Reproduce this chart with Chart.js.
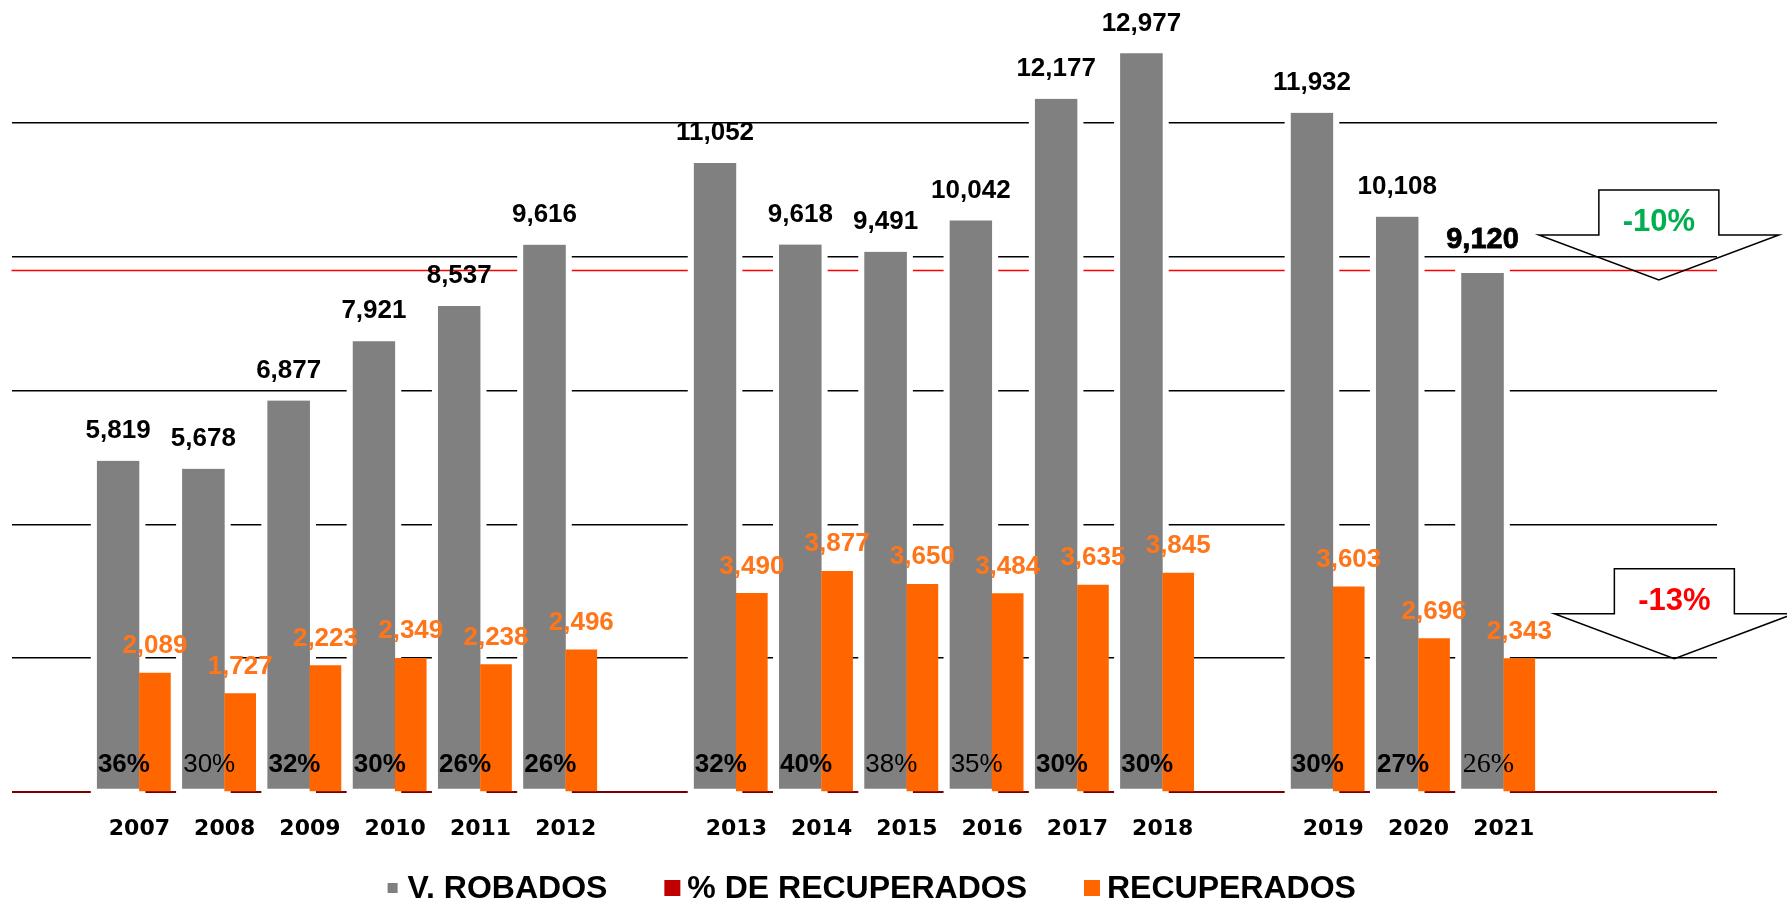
<!DOCTYPE html>
<html><head><meta charset="utf-8">
<script src="https://cdn.jsdelivr.net/npm/chart.js@4.4.1/dist/chart.umd.min.js"></script>
<style>html,body{margin:0;padding:0;background:#fff}#wrap{width:1787px;height:903px;position:relative}</style>
</head><body><div id="wrap"><canvas id="c"></canvas></div>
<script>
// ---- data (blank categories are the gaps between groups of years) ----
const categories = ['', '2007','2008','2009','2010','2011','2012','', '2013','2014','2015','2016','2017','2018','', '2019','2020','2021','',''];
const robados = [null,5819,5678,6877,7921,8537,9616,null,11052,9618,9491,10042,12177,12977,null,11932,10108,9120,null,null];
const recuperados = [null,2089,1727,2223,2349,2238,2496,null,3490,3877,3650,3484,3635,3845,null,3603,2696,2343,null,null];
const pctRecuperados = [null,36,30,32,30,26,26,null,32,40,38,35,30,30,null,30,27,26,null,null];
const pctLabelStyle = [null,'b','n','b','b','b','b',null,'b','b','n','n','b','b',null,'b','b','s',null,null];
const gridValues = [0,2350,4700,7050,9400,11750];
const yMax = 13914;
const referenceValue = 9160;
const seriesNames = ['V. ROBADOS','% DE RECUPERADOS','RECUPERADOS'];
const changeRobados = '-10%';
const changeRecuperados = '-13%';

const SANS = '"Liberation Sans", Arial, sans-serif';
const fmt = v => v.toLocaleString('en-US');
const lastIdx = arr => { for (let i = arr.length - 1; i >= 0; i--) if (arr[i] != null) return i; return -1; };

function drawArrow(ctx, tipX, tipY, text, color) {
  const rH = 60, tH = 120, h1 = 45, h2 = 45;
  ctx.save();
  ctx.strokeStyle = '#000'; ctx.lineWidth = 1.5;
  ctx.beginPath();
  ctx.moveTo(tipX - rH, tipY - h2 - h1);
  ctx.lineTo(tipX + rH, tipY - h2 - h1);
  ctx.lineTo(tipX + rH, tipY - h2);
  ctx.lineTo(tipX + tH, tipY - h2);
  ctx.lineTo(tipX, tipY);
  ctx.lineTo(tipX - tH, tipY - h2);
  ctx.lineTo(tipX - rH, tipY - h2);
  ctx.closePath();
  ctx.stroke();
  ctx.fillStyle = color;
  ctx.font = 'bold 31px ' + SANS;
  ctx.textAlign = 'center'; ctx.textBaseline = 'middle';
  ctx.fillText(text, tipX, tipY - 57);
  ctx.restore();
}

const deco = {
  id: 'deco',
  beforeDatasetsDraw(chart) {
    const {ctx, chartArea, scales: {y}} = chart;
    ctx.save();
    const ry = y.getPixelForValue(referenceValue);
    ctx.strokeStyle = '#FF0000'; ctx.lineWidth = 1.5;
    ctx.beginPath(); ctx.moveTo(chartArea.left, ry); ctx.lineTo(chartArea.right, ry); ctx.stroke();
    // white margin around the grey bars (hides grid lines behind them)
    ctx.fillStyle = '#fff';
    chart.getDatasetMeta(0).data.forEach((el, i) => {
      if (robados[i] == null) return;
      const p = el.getProps(['x','y','base','width'], true);
      ctx.fillRect(p.x - p.width/2 - 6, p.y - 4, p.width + 12, p.base - p.y + 7);
    });
    ctx.restore();
  },
  afterDatasetsDraw(chart) {
    const {ctx, scales: {x, y}} = chart;
    ctx.save();
    ctx.textAlign = 'center'; ctx.textBaseline = 'middle';
    const gLast = lastIdx(robados);
    chart.getDatasetMeta(0).data.forEach((el, i) => {
      if (robados[i] == null) return;
      ctx.fillStyle = '#000';
      if (i === gLast) {
        ctx.font = 'bold 29px ' + SANS;
        ctx.fillText(fmt(robados[i]), el.x, el.y - 33);
        ctx.strokeStyle = '#000'; ctx.lineWidth = 0.8;
        ctx.strokeText(fmt(robados[i]), el.x, el.y - 33);
      } else {
        ctx.font = 'bold 26px ' + SANS;
        ctx.fillText(fmt(robados[i]), el.x, el.y - 30);
      }
    });
    ctx.fillStyle = '#FF751A';
    ctx.font = 'bold 26px ' + SANS;
    chart.getDatasetMeta(2).data.forEach((el, i) => {
      if (recuperados[i] == null) return;
      ctx.fillText(fmt(recuperados[i]), el.x, el.y - 27);
    });
    const base = y.getPixelForValue(0);
    ctx.fillStyle = '#000';
    chart.getDatasetMeta(1).data.forEach((el, i) => {
      if (pctRecuperados[i] == null) return;
      const st = pctLabelStyle[i];
      ctx.font = st === 'b' ? 'bold 26px ' + SANS : st === 's' ? '28px "Liberation Serif", "DejaVu Serif", serif' : '26px ' + SANS;
      ctx.fillText(pctRecuperados[i] + '%', el.x, base - 27);
    });
    ctx.restore();
    // change arrows, anchored on the last values
    const slot = categories.length - 1;
    const ax = x.getPixelForValue(slot);
    drawArrow(ctx, ax - 15.5, y.getPixelForValue(robados[gLast]) + 7, changeRobados, '#00B050');
    drawArrow(ctx, ax, y.getPixelForValue(recuperados[lastIdx(recuperados)]), changeRecuperados, '#FF0000');
  },
  afterDraw(chart) {
    const {ctx, chartArea} = chart;
    ctx.save();
    ctx.font = 'bold 32px ' + SANS;
    const box = 16, gapBox = 7, gapItem = 57;
    const items = chart.data.datasets.map(ds => ({
      text: ds.label, color: ds.legendColor || ds.backgroundColor, size: ds.legendBox || box,
      w: ctx.measureText(ds.label).width
    }));
    const total = items.reduce((s, it) => s + box + gapBox + it.w, 0) + gapItem * (items.length - 1);
    let cx = (chartArea.left + chartArea.right) / 2 - total / 2 + 6;
    const cy = 888;
    ctx.textBaseline = 'alphabetic'; ctx.textAlign = 'left';
    items.forEach(it => {
      ctx.fillStyle = it.color;
      ctx.fillRect(cx + (box - it.size) / 2, cy - it.size / 2, it.size, it.size);
      ctx.fillStyle = '#000';
      ctx.fillText(it.text, cx + box + gapBox, 898);
      cx += box + gapBox + it.w + gapItem;
    });
    ctx.restore();
  }
};

new Chart(document.getElementById('c'), {
  type: 'bar',
  data: {
    labels: categories,
    datasets: [
      { label: seriesNames[0], data: robados, xAxisID: 'x', yAxisID: 'y', backgroundColor: '#808080',
        barThickness: 42.6, borderColor: '#fff', borderWidth: {top: 0, left: 0, right: 0, bottom: 2.5},
        borderSkipped: false, order: 2, legendBox: 10 },
      { label: seriesNames[1], data: pctRecuperados, xAxisID: 'x2', yAxisID: 'yPct',
        backgroundColor: 'rgba(0,0,0,0)', legendColor: '#C00000', barThickness: 31, order: 0 },
      { label: seriesNames[2], data: recuperados, xAxisID: 'x2', yAxisID: 'y', backgroundColor: '#FF6600',
        barThickness: 31, order: 1 }
    ]
  },
  options: {
    responsive: true, maintainAspectRatio: false, animation: false,
    layout: { padding: { left: 11.5, right: 70, top: 0, bottom: 60.6 } },
    plugins: { legend: { display: false }, tooltip: { enabled: false } },
    scales: {
      x: {
        offset: true,
        grid: { display: false, drawTicks: false }, border: { display: false },
        ticks: { color: '#000', font: { family: '"DejaVu Sans", sans-serif', weight: 'bold', size: 22 },
                 padding: 24, maxRotation: 0, autoSkip: false },
        afterFit: s => { s.height = 50.4; }
      },
      x2: { type: 'category', labels: categories, offset: true, display: false, grid: { display: false },
            afterFit: s => { s.height = 0; } },
      y: {
        min: 0, max: yMax,
        border: { display: false },
        ticks: { display: false },
        grid: {
          drawTicks: false,
          color: c => c.tick.value === 0 ? '#7A0000' : '#000',
          lineWidth: c => c.tick.value === 0 ? 2 : 1.5
        },
        afterBuildTicks: s => { s.ticks = gridValues.map(v => ({ value: v })); },
        afterFit: s => { s.width = 0; }
      },
      yPct: { min: 0, max: 100, display: false, afterFit: s => { s.width = 0; } }
    }
  },
  plugins: [deco]
});
</script>
</body></html>
